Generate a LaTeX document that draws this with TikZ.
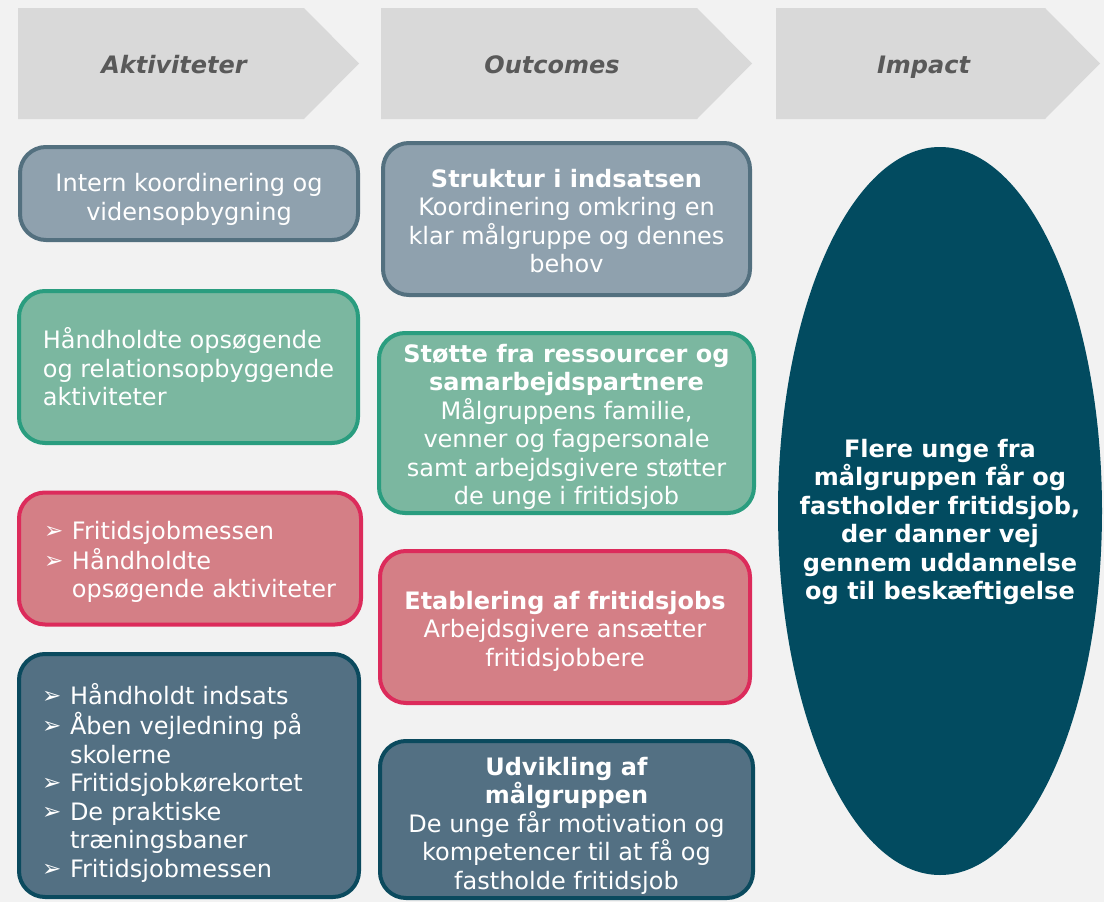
\documentclass[tikz,border=0pt]{standalone}
\usepackage{fontspec}
\setmainfont{DejaVu Sans}[ItalicFont={DejaVu Sans Oblique}, BoldItalicFont={DejaVu Sans Bold Oblique}]
\usetikzlibrary{shapes.geometric}

\definecolor{bg}{HTML}{F2F2F2}
\definecolor{headfill}{HTML}{D9D9D9}
\definecolor{headtext}{HTML}{595959}
\definecolor{greyfill}{HTML}{8FA1AE}
\definecolor{greyline}{HTML}{53707F}
\definecolor{greenfill}{HTML}{7BB7A0}
\definecolor{greenline}{HTML}{2A9D7F}
\definecolor{redfill}{HTML}{D47F86}
\definecolor{redline}{HTML}{DC2B5B}
\definecolor{navyfill}{HTML}{537083}
\definecolor{navyline}{HTML}{0B4A5E}
\definecolor{impactfill}{HTML}{024B60}

\newcommand{\txtfont}{\fontsize{24}{28.5}\selectfont}
\newcommand{\bul}{\makebox[28pt][l]{\raisebox{1pt}{\fontsize{23}{23}\selectfont ➢}}}

\begin{document}
\begin{tikzpicture}[x=1pt, y=-1pt, font=\txtfont]
	\tikzstyle{head}=[font=\txtfont\bfseries\itshape, text=headtext, anchor=base]
	\tikzstyle{box}=[rectangle, rounded corners=26pt, line width=4pt, inner sep=0pt]
	\tikzstyle{grey}=[box, fill=greyfill, draw=greyline]
	\tikzstyle{green}=[box, fill=greenfill, draw=greenline]
	\tikzstyle{red}=[box, fill=redfill, draw=redline]
	\tikzstyle{navy}=[box, fill=navyfill, draw=navyline]
	\tikzstyle{txt}=[text=white, inner sep=0pt, align=center]
	\tikzstyle{list}=[txt, align=left, text width=294pt]
	% Background
	\fill[bg] (0,0) rectangle (1104,902);
	\useasboundingbox (0,0) rectangle (1104,902);
	% Headers
	\foreach \x/\w/\name/\lbl in {18/286/akt/Aktiviteter, 381/316/out/Outcomes, 776/269/imp/Impact}{
		\fill[headfill] (\x,8) -- ++(\w,0) -- ++(55,55.5) -- ++(-55,55.5) -- ++(-\w,0) -- cycle;
		\node at (\x+\w/2+13, 73) [head] (head_\name) {\lbl};
	}
	%---------------------%
	% Aktiviteter
	\node at (189, 193.5) [grey, minimum width=338pt, minimum height=93pt] (akt_1) {};
	\node at (189, 199.5) [txt] (akt_1_txt) {Intern koordinering og\\vidensopbygning};
	\node at (188.5, 367) [green, minimum width=339pt, minimum height=152pt] (akt_2) {};
	\node at (188.5, 367) [txt, align=left] (akt_2_txt) {Håndholdte opsøgende\\og relationsopbyggende\\aktiviteter};
	\node at (190, 558.5) [red, minimum width=342pt, minimum height=132pt] (akt_3) {};
	\node at (191, 563) [list] (akt_3_txt)
		{\begin{tabular}{@{}l@{}l@{}}
			\bul & Fritidsjobmessen\\
			\bul & Håndholdte\\
			     & opsøgende aktiviteter
		\end{tabular}};
	\node at (189, 775.5) [navy, minimum width=340pt, minimum height=243pt] (akt_4) {};
	\node at (189, 784.5) [list] (akt_4_txt)
		{\begin{tabular}{@{}l@{}l@{}}
			\bul & Håndholdt indsats\\
			\bul & Åben vejledning på\\
			     & skolerne\\
			\bul & Fritidsjobkørekortet\\
			\bul & De praktiske\\
			     & træningsbaner\\
			\bul & Fritidsjobmessen
		\end{tabular}};
	%---------------------%
	% Outcomes
	\node at (566.5, 219) [grey, minimum width=367pt, minimum height=152pt] (out_1) {};
	\node at (566.5, 221) [txt] (out_1_txt)
		{\textbf{Struktur i indsatsen}\\Koordinering omkring en\\klar målgruppe og dennes\\behov};
	\node at (566.5, 423) [green, minimum width=375pt, minimum height=180pt] (out_2) {};
	\node at (566.5, 427) [txt] (out_2_txt)
		{\textbf{Støtte fra ressourcer og}\\\textbf{samarbejdspartnere}\\Målgruppens familie,\\venner og fagpersonale\\samt arbejdsgivere støtter\\de unge i fritidsjob};
	\node at (565, 627) [red, minimum width=370pt, minimum height=152pt] (out_3) {};
	\node at (565, 631) [txt] (out_3_txt)
		{\textbf{Etablering af fritidsjobs}\\Arbejdsgivere ansætter\\fritidsjobbere};
	\node at (566.5, 819.5) [navy, minimum width=373pt, minimum height=157pt] (out_4) {};
	\node at (566.5, 825.5) [txt] (out_4_txt)
		{\textbf{Udvikling af}\\\textbf{målgruppen}\\De unge får motivation og\\kompetencer til at få og\\fastholde fritidsjob};
	%---------------------%
	% Impact
	\node at (940, 511) [ellipse, fill=impactfill, minimum width=324pt, minimum height=728pt, inner sep=0pt] (imp_1) {};
	\node at (940, 522) [txt, font=\txtfont\bfseries] (imp_1_txt)
		{Flere unge fra\\målgruppen får og\\fastholder fritidsjob,\\der danner vej\\gennem uddannelse\\og til beskæftigelse};
\end{tikzpicture}
\end{document}
